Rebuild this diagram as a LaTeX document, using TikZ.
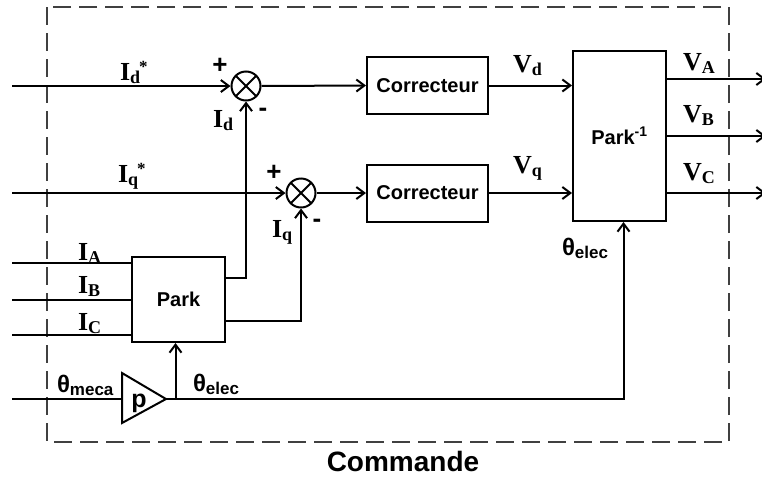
\documentclass[tikz,border=0pt]{standalone}
\usepackage{fontspec}
\setmainfont{Liberation Serif}
\setsansfont{Liberation Sans}
\usetikzlibrary{arrows.meta,calc}
\newcommand\fsz[1]{\fontsize{#1}{#1}\selectfont}
\newcommand\lsub[1]{\raisebox{-3pt}{\fsz{18}#1}}
\newcommand\lsup[1]{\kern-1pt\raisebox{8pt}{\fsz{17}#1}}
\newcommand\ssub[1]{\raisebox{-3pt}{\fsz{17}#1}}
\begin{document}
\begin{tikzpicture}[x=1pt,y=-1pt,line width=2pt,
  >={Straight Barb[length=8pt,width=12pt,line width=2pt]},
  blk/.style={draw,rectangle,inner sep=0pt,font=\sffamily\bfseries\fsz{20}},
  sumnode/.style={draw,circle,minimum size=29pt,inner sep=0pt,
    path picture={\draw (path picture bounding box.north west)--(path picture bounding box.south east)
      (path picture bounding box.north east)--(path picture bounding box.south west);}},
  sig/.style={anchor=base west,inner sep=0pt,font=\rmfamily\bfseries\fsz{26}},
  ang/.style={anchor=base west,inner sep=0pt,font=\sffamily\bfseries\fsz{24}},
  sgn/.style={inner sep=0pt,font=\sffamily\bfseries\fsz{26}},
  frame/.style={draw=black!75,line width=2.4pt,dash pattern=on 18pt off 8pt}
]
\useasboundingbox (0,0) rectangle (762,477);
\draw[frame] (47,7) rectangle (729,442);

% blocks
\node[sumnode] (s1) at (246,86) {};
\node[sumnode] (s2) at (301,193) {};
\node[blk,minimum width=121pt,minimum height=57pt] (c1) at (427.5,85.5) {Correcteur};
\node[blk,minimum width=121pt,minimum height=57pt] (c2) at (427.5,193) {Correcteur};
\node[blk,minimum width=93pt,minimum height=170pt] (pinv) at (619.5,136) {Park\textsuperscript{-1}};
\node[blk,minimum width=93pt,minimum height=85pt] (park) at (178.5,299.5) {Park};

% gain
\coordinate (gin) at (122,399);
\coordinate (gout) at (166,399);
\draw (122,373) -- (gout) -- (122,423) -- cycle;
\node[sgn,font=\sffamily\bfseries\fsz{25}] (p) at (139,403) {p};

% free ends
\coordinate (idin) at (12,86);
\coordinate (iqin) at (12,193);
\coordinate (iain) at (12,263);
\coordinate (ibin) at (12,300);
\coordinate (icin) at (12,335);
\coordinate (tmin) at (12,399);
\coordinate (vaout) at (766,79);
\coordinate (vbout) at (766,136);
\coordinate (vcout) at (766,193);

% connectors
\draw[->] (idin) -- (s1.west);
\draw[->] (s1.east) -- (c1.west);
\draw[->] (iqin) -- (s2.west);
\draw[->] (s2.east) -- (c2.west);
\draw[->] (c1.east) -- (c1.east -| pinv.west);
\draw[->] (c2.east) -- (c2.east -| pinv.west);
\draw[->] (pinv.east |- vaout) -- (vaout);
\draw[->] (pinv.east |- vbout) -- (vbout);
\draw[->] (pinv.east |- vcout) -- (vcout);
\draw (iain) -- (iain -| park.west);
\draw (ibin) -- (ibin -| park.west);
\draw (icin) -- (icin -| park.west);
\draw[->] ($(park.north east)!0.25!(park.south east)$) -| (s1.south);
\draw[->] ($(park.north east)!0.75!(park.south east)$) -| (s2.south);
\draw (tmin) -- (gin);
\draw[->] (gout) -| ([xshift=4pt]pinv.south);
\draw[->] ([xshift=-3pt]park.south |- gout) -- ([xshift=-3pt]park.south);

% labels
\node[sig] (lid1) at (119,80) {I\lsub{d}\lsup{*}};
\node[sig] (lid2) at (212,127) {I\lsub{d}};
\node[sig] (liq1) at (117,182) {I\lsub{q}\lsup{*}};
\node[sig] (liq2) at (271,237) {I\lsub{q}};
\node[sig] (lvd) at (512,72) {V\lsub{d}};
\node[sig] (lvq) at (512,173) {V\lsub{q}};
\node[sig] (lva) at (682,70) {V\lsub{A}};
\node[sig] (lvb) at (682,122) {V\lsub{B}};
\node[sig] (lvc) at (682,180) {V\lsub{C}};
\node[sig] (lia) at (77,260) {I\lsub{A}};
\node[sig] (lib) at (77,293) {I\lsub{B}};
\node[sig] (lic) at (77,330) {I\lsub{C}};
\node[ang] (ltm) at (56,392) {θ\ssub{meca}};
\node[ang] (lte1) at (192,391) {θ\ssub{elec}};
\node[ang] (lte2) at (561,255) {θ\ssub{elec}};
\node[sgn] (plus1) at (220,66) {+};
\node[sgn] (minus1) at (263,112) {-};
\node[sgn] (plus2) at (274,173) {+};
\node[sgn] (minus2) at (317,223) {-};
\node[inner sep=0pt,font=\sffamily\bfseries\fsz{28}] (cmd) at (403,461) {Commande};
\end{tikzpicture}
\end{document}
